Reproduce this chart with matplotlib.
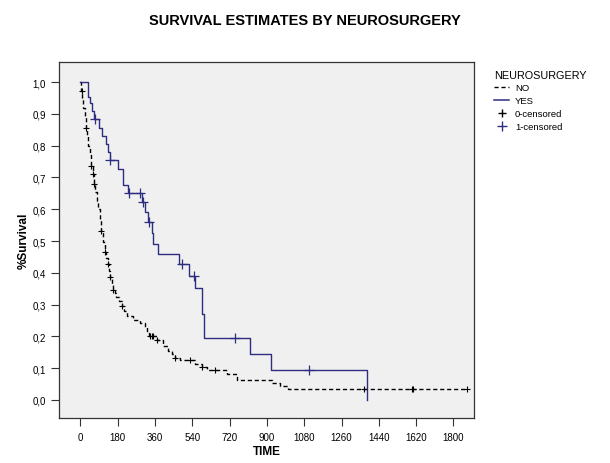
import numpy as np
import matplotlib
matplotlib.use("Agg")
import matplotlib.pyplot as plt
from matplotlib.lines import Line2D

plt.rcParams['font.family'] = ['Liberation Sans', 'DejaVu Sans']

# Kaplan-Meier steps
no_time = [0, 4, 10, 15, 21, 27, 33, 39, 45, 50, 60, 66, 71, 80, 87, 94, 100, 110, 119, 126,
           132, 138, 143, 151, 159, 166, 172, 185, 200, 212, 224, 256, 288, 312, 322, 330, 368,
           400, 424, 440, 457, 481, 553, 585, 609, 706, 754, 923, 963, 1000, 1863]
no_surv = [1.0, 0.973, 0.946, 0.92, 0.89, 0.857, 0.83, 0.80, 0.77, 0.737, 0.71, 0.68, 0.653,
           0.625, 0.60, 0.567, 0.532, 0.498, 0.464, 0.445, 0.428, 0.405, 0.386, 0.365, 0.345,
           0.335, 0.323, 0.31, 0.297, 0.28, 0.265, 0.25, 0.241, 0.229, 0.212, 0.2, 0.189,
           0.171, 0.155, 0.145, 0.131, 0.124, 0.113, 0.103, 0.095, 0.082, 0.064, 0.052, 0.043,
           0.033, 0.033]
no_cens = [7, 27, 50, 60, 68, 100, 119, 132, 143, 159, 200, 335, 345, 352, 370, 457, 529,
           585, 649, 1370, 1598, 1606, 1863]

yes_time = [0, 36, 47, 58, 68, 92, 103, 122, 135, 143, 180, 207, 231, 296, 312, 328, 344,
            352, 376, 476, 526, 553, 585, 589, 596, 818, 920, 1381]
yes_surv = [1.0, 0.954, 0.933, 0.910, 0.884, 0.857, 0.831, 0.805, 0.779, 0.755, 0.726, 0.676,
            0.651, 0.622, 0.590, 0.559, 0.525, 0.492, 0.459, 0.427, 0.391, 0.351, 0.307, 0.27,
            0.194, 0.145, 0.095, 0.0]
yes_cens = [70, 145, 233, 290, 300, 330, 492, 548, 746, 1103]

x_ticks = [0, 180, 360, 540, 720, 900, 1080, 1260, 1440, 1620, 1800]
y_ticks = [0.0, 0.1, 0.2, 0.3, 0.4, 0.5, 0.6, 0.7, 0.8, 0.9, 1.0]
y_labels = ['0,0', '0,1', '0,2', '0,3', '0,4', '0,5', '0,6', '0,7', '0,8', '0,9', '1,0']

navy = '#2e2e80'


def surv_at(times, surv, t):
    i = np.searchsorted(times, t, side='right') - 1
    return np.array(surv)[i]


fig = plt.figure(figsize=(6.1, 4.64), dpi=100)
ax = fig.add_axes([0.0967, 0.097, 0.680, 0.767])
ax.set_facecolor('#f0f0f0')

ax.step(no_time, no_surv, where='post', color='black', linestyle=(0, (3, 2)), linewidth=1.0)
ax.step(yes_time, yes_surv, where='post', color=navy, linewidth=1.0)

ax.plot(no_cens, surv_at(no_time, no_surv, no_cens), linestyle='none', marker='+',
        color='black', markersize=4, markeredgewidth=0.8)
ax.plot(yes_cens, surv_at(yes_time, yes_surv, yes_cens), linestyle='none', marker='+',
        color=navy, markersize=7, markeredgewidth=0.9)

ax.set_xlim(-103, 1898)
ax.set_ylim(-0.057, 1.063)
ax.set_xticks(x_ticks)
ax.set_yticks(y_ticks)
ax.set_yticklabels(y_labels)
ax.tick_params(labelsize=7, length=6, width=0.8, color='#333333')
ax.tick_params(axis='x', pad=4)
for s in ax.spines.values():
    s.set_color('#333333')
    s.set_linewidth(0.9)

ax.set_xlabel('TIME', fontsize=8.5, fontweight='bold', labelpad=2)
ax.set_ylabel('%Survival', fontsize=8.5, fontweight='bold', labelpad=2)
fig.text(0.5, 0.955, 'SURVIVAL ESTIMATES BY NEUROSURGERY', ha='center', va='center',
         fontsize=10.5, fontweight='bold')

handles = [Line2D([], [], color='black', linestyle=(0, (3, 2)), linewidth=1.0),
           Line2D([], [], color=navy, linewidth=1.1),
           Line2D([], [], color='black', linestyle='none', marker='+', markersize=6),
           Line2D([], [], color=navy, linestyle='none', marker='+', markersize=7)]
leg = fig.legend(handles, ['NO', 'YES', '0-censored', '1-censored'], title='NEUROSURGERY',
                 loc='upper left', bbox_to_anchor=(0.81, 0.848), frameon=False,
                 fontsize=6.8, title_fontsize=7.8, handlelength=1.6, handletextpad=0.6,
                 labelspacing=0.42, borderaxespad=0, borderpad=0)
leg._legend_box.align = 'left'

fig.savefig('out.png', dpi=100)
